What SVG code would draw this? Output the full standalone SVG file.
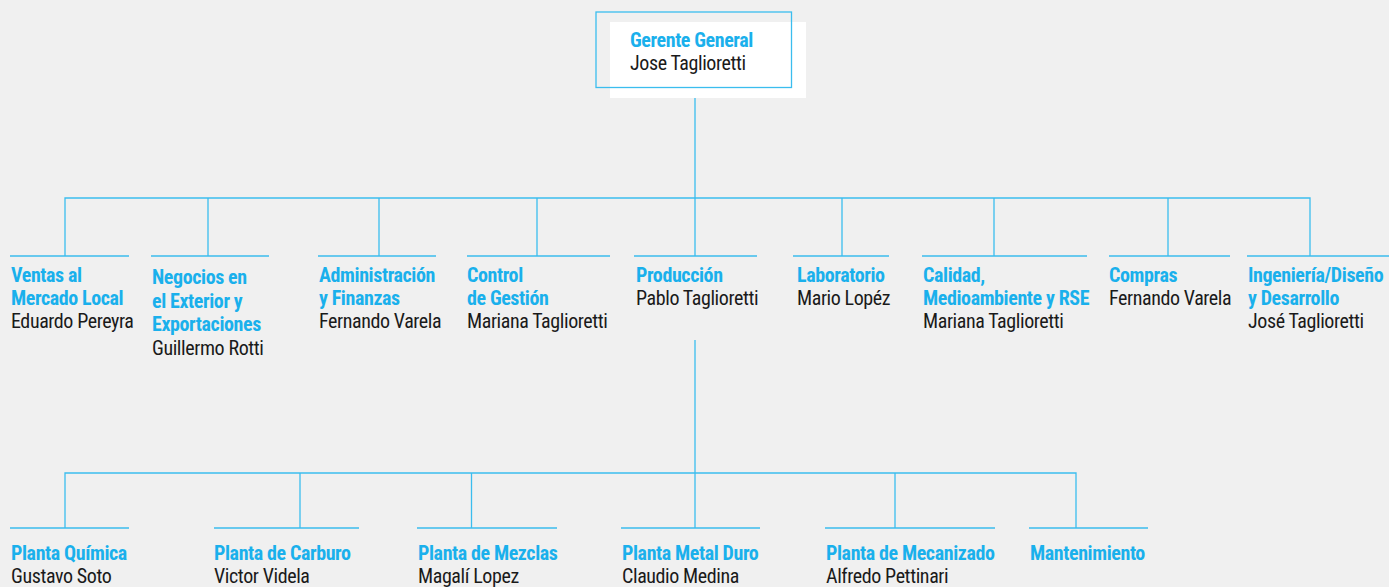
<svg xmlns="http://www.w3.org/2000/svg" width="1389" height="587" viewBox="0 0 1389 587">
<style>
text{font-family:"Liberation Sans Narrow","Arial Narrow","Roboto Condensed","DejaVu Sans Condensed",sans-serif;font-size:20px;letter-spacing:-0.4px;font-stretch:condensed}
.t{fill:#1ab0ec;font-weight:bold}
.n{fill:#1a1a1a}
.ln{stroke:#3bbdee;stroke-width:1.3;fill:none}
</style>
<rect width="1389" height="587" fill="#f0f0f0"/>
<g id="connectors" class="ln">
<path d="M695 88V198M65 256V198H1310V256M208 198V256M379 198V256M537 198V256M695 198V256M842 198V256M994 198V256M1168 198V256"/>
<path d="M695 340V473M65 528V473H1076V528M300 473V528M471.5 473V528M695 473V528M895 473V528"/>
</g>
<g id="gerente">
<rect x="610" y="22" width="196" height="76" fill="#ffffff"/>
<rect x="596" y="12" width="195.5" height="75.5" class="ln"/>
<text x="630" y="47" class="t">Gerente General</text>
<text x="630" y="70" class="n">Jose Taglioretti</text>
</g>
<g id="ventas"><path d="M10 256H129" class="ln"/><text x="11" y="282" class="t">Ventas al</text><text x="11" y="305" class="t">Mercado Local</text><text x="11" y="328" class="n">Eduardo Pereyra</text></g>
<g id="negocios"><path d="M151 256H269" class="ln"/><text x="152" y="284" class="t">Negocios en</text><text x="152" y="307.5" class="t">el Exterior y</text><text x="152" y="331" class="t">Exportaciones</text><text x="152" y="354.5" class="n">Guillermo Rotti</text></g>
<g id="administracion"><path d="M318 256H436" class="ln"/><text x="319" y="282" class="t">Administración</text><text x="319" y="305" class="t">y Finanzas</text><text x="319" y="328" class="n">Fernando Varela</text></g>
<g id="control"><path d="M467 256H610" class="ln"/><text x="467" y="282" class="t">Control</text><text x="467" y="305" class="t">de Gestión</text><text x="467" y="328" class="n">Mariana Taglioretti</text></g>
<g id="produccion"><path d="M634 256H757" class="ln"/><text x="636" y="282" class="t">Producción</text><text x="636" y="305" class="n">Pablo Taglioretti</text></g>
<g id="laboratorio"><path d="M793 256H889" class="ln"/><text x="797" y="282" class="t">Laboratorio</text><text x="797" y="305" class="n">Mario Lopéz</text></g>
<g id="calidad"><path d="M922 256H1087" class="ln"/><text x="923" y="282" class="t">Calidad,</text><text x="923" y="305" class="t">Medioambiente y RSE</text><text x="923" y="328" class="n">Mariana Taglioretti</text></g>
<g id="compras"><path d="M1109 256H1230" class="ln"/><text x="1109" y="282" class="t">Compras</text><text x="1109" y="305" class="n">Fernando Varela</text></g>
<g id="ingenieria"><path d="M1247 256H1389" class="ln"/><text x="1248" y="282" class="t">Ingeniería/Diseño</text><text x="1248" y="305" class="t">y Desarrollo</text><text x="1248" y="328" class="n">José Taglioretti</text></g>
<g id="quimica"><path d="M10 528H129" class="ln"/><text x="11" y="560" class="t">Planta Química</text><text x="11" y="583" class="n">Gustavo Soto</text></g>
<g id="carburo"><path d="M214 528H359" class="ln"/><text x="214" y="560" class="t">Planta de Carburo</text><text x="214" y="583" class="n">Victor Videla</text></g>
<g id="mezclas"><path d="M417 528H557" class="ln"/><text x="418" y="560" class="t">Planta de Mezclas</text><text x="418" y="583" class="n">Magalí Lopez</text></g>
<g id="metalduro"><path d="M621 528H760" class="ln"/><text x="622" y="560" class="t">Planta Metal Duro</text><text x="622" y="583" class="n">Claudio Medina</text></g>
<g id="mecanizado"><path d="M825 528H995" class="ln"/><text x="826" y="560" class="t">Planta de Mecanizado</text><text x="826" y="583" class="n">Alfredo Pettinari</text></g>
<g id="mantenimiento"><path d="M1029 528H1148" class="ln"/><text x="1030" y="560" class="t">Mantenimiento</text></g>
</svg>
